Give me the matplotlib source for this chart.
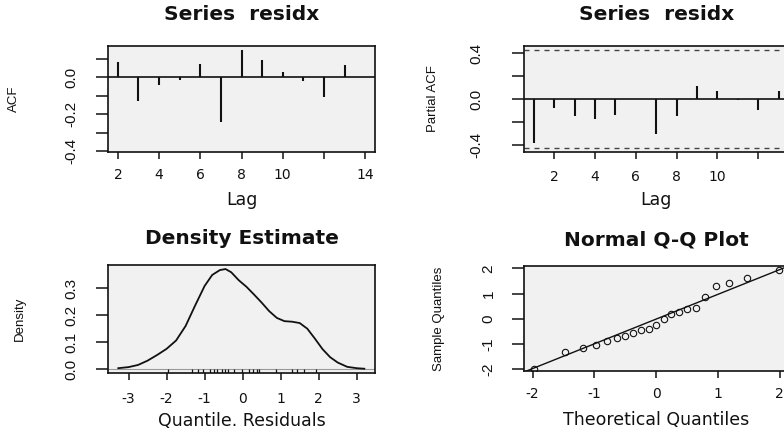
#!/usr/bin/env python3
"""
plot_resid_diag.py — residual diagnostics for the fitted model:
ACF, PACF, kernel density of quantile residuals and a normal Q-Q plot.

Writes: out.png
"""
import matplotlib
matplotlib.use("Agg")
import matplotlib.pyplot as plt
from matplotlib import font_manager

W, H = 784, 432          # output size in pixels (dpi 100)
INK = "#111111"
PANEL_BG = "#f1f1f1"

# --- autocorrelation of residuals ---
acf_lags = [2, 3, 4, 5, 6, 7, 8, 9, 10, 11, 12, 13]
acf_vals = [0.079, -0.127, -0.043, -0.016, 0.073, -0.243,
            0.145, 0.095, 0.029, -0.020, -0.105, 0.064]

pacf_lags = [1, 2, 3, 4, 5, 6, 7, 8, 9, 10, 11, 12, 13]
pacf_vals = [-0.383, -0.078, -0.150, -0.173, -0.136, 0.0, -0.308,
             -0.144, 0.109, 0.072, -0.008, -0.095, 0.072]
pacf_clim = 0.428

# --- density estimate of quantile residuals ---
dens_x = [-3.27, -3.0, -2.75, -2.5, -2.25, -2.0, -1.75, -1.5, -1.25, -1.0,
          -0.8, -0.6, -0.45, -0.3, -0.1, 0.1, 0.3, 0.5, 0.7, 0.9,
          1.1, 1.3, 1.5, 1.7, 1.9, 2.1, 2.3, 2.5, 2.75, 3.0, 3.2]
dens_y = [0.003, 0.007, 0.015, 0.031, 0.052, 0.075, 0.106, 0.160, 0.236, 0.309,
          0.350, 0.368, 0.372, 0.360, 0.330, 0.306, 0.277, 0.247, 0.215, 0.190,
          0.178, 0.176, 0.171, 0.150, 0.113, 0.074, 0.044, 0.024, 0.008, 0.003, 0.001]

# --- normal Q-Q ---
residuals = [-1.97, -1.33, -1.17, -1.03, -0.87, -0.76, -0.67, -0.55, -0.46, -0.39,
             -0.24, -0.02, 0.18, 0.26, 0.38, 0.44, 0.88, 1.31, 1.43, 1.61, 1.94]
theo_quantiles = [-1.98, -1.47, -1.18, -0.97, -0.79, -0.64, -0.50, -0.37, -0.24, -0.12,
                  0.0, 0.12, 0.24, 0.37, 0.50, 0.64, 0.79, 0.97, 1.18, 1.47, 1.98]
qq_intercept = -0.01
qq_slope = 0.98

# --- tick positions / labels ---
acf_yticks = [-0.4, -0.3, -0.2, -0.1, 0.0, 0.1]
acf_yticklabels = ["-0.4", "", "-0.2", "", "0.0", ""]
acf_xticks = [2, 4, 6, 8, 10, 12, 14]
acf_xticklabels = ["2", "4", "6", "8", "10", "", "14"]
pacf_yticks = [-0.4, -0.2, 0.0, 0.2, 0.4]
pacf_yticklabels = ["-0.4", "", "0.0", "", "0.4"]
pacf_xticks = [2, 4, 6, 8, 10, 12]
pacf_xticklabels = ["2", "4", "6", "8", "10", ""]
dens_xticks = [-3, -2, -1, 0, 1, 2, 3]
dens_xticklabels = ["-3", "-2", "-1", "0", "1", "2", "3"]
dens_yticks = [0.0, 0.1, 0.2, 0.3]
dens_yticklabels = ["0.0", "0.1", "0.2", "0.3"]
qq_ticks = [-2, -1, 0, 1, 2]
qq_ticklabels = ["-2", "-1", "0", "1", "2"]


def pick_narrow():
    """Narrow face for the vertical axis text; (family, tick size, label size)."""
    names = {f.name for f in font_manager.fontManager.ttflist}
    if "Liberation Sans Narrow" in names:
        return "Liberation Sans Narrow", 12, 10
    if "DejaVu Sans Condensed" in names:
        return "DejaVu Sans Condensed", 11, 9.5
    return "Liberation Sans", 11, 9.5


NARROW, YTICK_SIZE, YLAB_SIZE = pick_narrow()
TITLE_FONT = dict(family="DejaVu Sans", weight="bold", size=14.5, color=INK)
XLAB_FONT = dict(family="DejaVu Sans", size=12.5, color=INK)


def r_panel(fig, box, xlim, ylim, xpad, ypad):
    """Axes in R base-graphics style; box = (left, top, right, bottom) in px."""
    l, t, r, b = box
    ax = fig.add_axes([l / W, 1 - b / H, (r - l) / W, (b - t) / H])
    ax.set_facecolor(PANEL_BG)
    ax.set_xlim(*xlim)
    ax.set_ylim(*ylim)
    for s in ax.spines.values():
        s.set_linewidth(1.2)
        s.set_color(INK)
    ax.tick_params(axis="x", length=5, width=1.1, pad=xpad, color=INK)
    ax.tick_params(axis="y", length=8.4, width=1.1, pad=ypad, color=INK)
    return ax


def set_ticks(ax, xt, xl, yt, yl):
    ax.set_xticks(xt, xl, family="DejaVu Sans", fontsize=10, color=INK)
    ax.set_yticks(yt, yl, family=NARROW, fontsize=YTICK_SIZE, color=INK,
                  rotation=90, va="center")


def set_labels(ax, title, title_pad, xlabel, xpos, ylabel, ypos):
    ax.set_title(title, pad=title_pad, **TITLE_FONT)
    ax.set_xlabel(xlabel, **XLAB_FONT)
    ax.xaxis.set_label_coords(0.5, xpos)
    ax.xaxis.label.set_va("center")
    ax.set_ylabel(ylabel, family=NARROW, size=YLAB_SIZE, color=INK)
    ax.yaxis.set_label_coords(ypos, 0.5)
    ax.yaxis.label.set_va("center")


def main():
    fig = plt.figure(figsize=(W / 100, H / 100), dpi=100)

    # ACF
    ax = r_panel(fig, (108, 46, 375, 152), (1.52, 14.48), (-0.404, 0.168), 6.5, 13)
    ax.vlines(acf_lags, 0, acf_vals, color=INK, lw=1.5)
    ax.axhline(0, color=INK, lw=1.2)
    set_ticks(ax, acf_xticks, acf_xticklabels, acf_yticks, acf_yticklabels)
    set_labels(ax, "Series  residx", 18.4, "Lag", -0.453, "ACF", -0.352)

    # PACF
    ax = r_panel(fig, (524, 46, 788.5, 152), (0.52, 13.48), (-0.462, 0.462), 8, 21)
    ax.vlines(pacf_lags, 0, pacf_vals, color=INK, lw=1.5)
    ax.axhline(0, color=INK, lw=1.2)
    for c in (pacf_clim, -pacf_clim):
        ax.axhline(c, color="#444444", lw=1.0, ls=(0, (3.6, 3.6)))
    set_ticks(ax, pacf_xticks, pacf_xticklabels, pacf_yticks, pacf_yticklabels)
    set_labels(ax, "Series  residx", 18.4, "Lag", -0.453, "Partial ACF", -0.344)

    # density estimate with rug
    ax = r_panel(fig, (108, 265, 375, 373), (-3.54, 3.48), (-0.0149, 0.387), 8.6, 13)
    ax.axhline(0, color="#9a9a9a", lw=0.8)
    ax.plot(dens_x, dens_y, color=INK, lw=1.3)
    ax.vlines(residuals, 0, 0.035, transform=ax.get_xaxis_transform(),
              color=INK, lw=0.9)
    set_ticks(ax, dens_xticks, dens_xticklabels, dens_yticks, dens_yticklabels)
    set_labels(ax, "Density Estimate", 15, "Quantile. Residuals", -0.444,
               "Density", -0.33)

    # normal Q-Q
    ax = r_panel(fig, (524, 266, 788.5, 371), (-2.14, 2.14), (-2.067, 2.09), 6.5, 12)
    ax.axline((0, qq_intercept), slope=qq_slope, color=INK, lw=1.0)
    ax.plot(theo_quantiles, residuals, ls="none", marker="o", ms=4.6,
            mfc="none", mec=INK, mew=0.8)
    set_ticks(ax, qq_ticks, qq_ticklabels, qq_ticks, qq_ticklabels)
    set_labels(ax, "Normal Q-Q Plot", 15, "Theoretical Quantiles", -0.467,
               "Sample Quantiles", -0.32)

    fig.savefig("out.png", dpi=100, facecolor="white")
    plt.close(fig)


if __name__ == "__main__":
    main()
